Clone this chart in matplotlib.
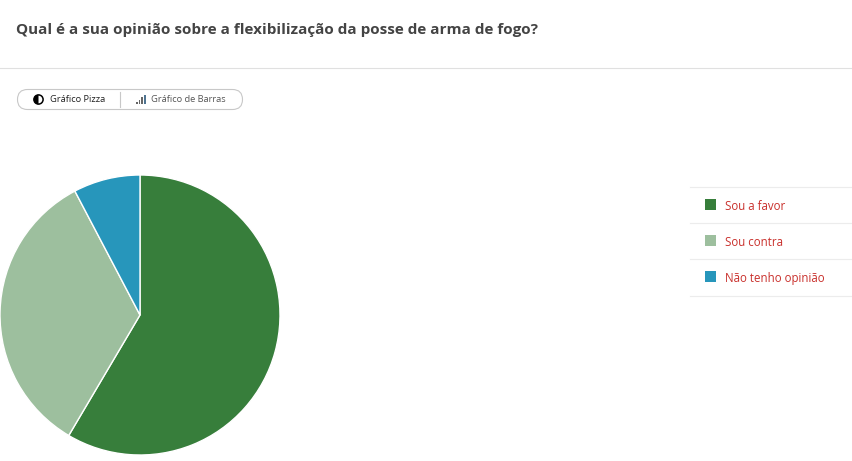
import matplotlib
matplotlib.use("Agg")
import matplotlib.pyplot as plt
from matplotlib.patches import Circle, Wedge, Rectangle, FancyBboxPatch

plt.rcParams['font.family'] = ['Open Sans', 'DejaVu Sans']

titulo = "Qual é a sua opinião sobre a flexibilização da posse de arma de fogo?"
categorias = ["Sou a favor", "Sou contra", "Não tenho opinião"]
valores = [58.5, 33.8, 7.7]
cores = ["#377e3b", "#9dbf9e", "#2796bb"]
botoes = ["Gráfico Pizza", "Gráfico de Barras"]

W, H = 853, 461
fig = plt.figure(figsize=(W / 100, H / 100), dpi=100)
ax = fig.add_axes([0, 0, 1, 1])


# coordenadas em pixels, com origem no topo
def py(y):
    return H - y


# pizza
ax.pie(valores, colors=cores, startangle=90, counterclock=False,
       center=(140, py(315)), radius=140, frame=True,
       wedgeprops=dict(edgecolor="white", linewidth=1))
ax.set_xlim(0, W)
ax.set_ylim(0, H)
ax.set_aspect("auto")
ax.axis("off")

# titulo
ax.text(16, py(30.5), titulo, fontsize=10.97, fontweight="bold", color="#444444", va="center")
ax.plot([0, W], [py(68.5), py(68.5)], color="#e0e0e0", lw=0.8)

# botoes
ax.add_patch(FancyBboxPatch((17.5, py(109.5)), 225, 20, boxstyle="round,pad=0,rounding_size=10",
                            fc="white", ec="#c8c8c8", lw=0.8))
ax.add_patch(Circle((38.5, py(99.5)), 4.6, fc="white", ec="black", lw=1.1))
ax.add_patch(Wedge((38.5, py(99.5)), 4.6, 90, 270, fc="black", ec="black", lw=0))
ax.text(50, py(100), botoes[0], fontsize=6.7, color="#222222", va="center")
ax.plot([120.5, 120.5], [py(92), py(107)], color="#c8c8c8", lw=0.8)
for i, h in enumerate([2, 4, 7, 9]):
    ax.add_patch(Rectangle((136 + i * 2.6, py(104)), 1.8, h,
                           fc="#666666" if i < 3 else "#4f7491", ec="none"))
ax.text(151, py(100), botoes[1], fontsize=6.7, color="#555555", va="center")

# legenda
for y in [187.5, 223.5, 259.5, 295.5]:
    ax.plot([690, W], [py(y), py(y)], color="#ececec", lw=0.8)
for i, (nome, cor) in enumerate(zip(categorias, cores)):
    yc = 204.5 + i * 36
    ax.add_patch(Rectangle((705, py(yc + 5.5)), 11, 11, fc=cor, ec="none"))
    ax.text(725.5, py(yc + 1.8), nome, fontsize=8.3, color="#c9302c", va="center")

fig.savefig("out.png", dpi=100, facecolor="white")
